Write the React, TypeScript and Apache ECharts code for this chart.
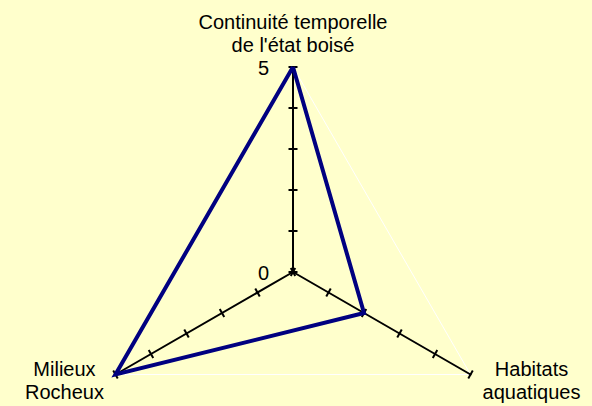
import React, { useEffect, useRef } from "react";
import * as echarts from "echarts";

const indicatorNames = [
  "Continuité temporelle\nde l'état boisé",
  "Milieux\nRocheux",
  "Habitats\naquatiques",
];
const seriesValues = [5, 5, 2];
const axisMin = 0;
const axisMax = 5;
const rangeLabels = ["0", "5"];

const CX = 293;
const CY = 272;
const R = 205;
const FONT = "20px Liberation Sans, Arial, sans-serif";

export default function App() {
  const ref = useRef<HTMLDivElement>(null);
  useEffect(() => {
    if (!ref.current) return;
    const chart = echarts.init(ref.current, undefined, { renderer: "svg" });
    const indicator = indicatorNames.map((n) => ({ name: n, min: axisMin, max: axisMax }));
    const splitColors = ["rgba(0,0,0,0)", "rgba(0,0,0,0)", "rgba(0,0,0,0)", "rgba(0,0,0,0)", "rgba(0,0,0,0)", "#ffffff"];
    const ends = indicatorNames.map((_, i) => {
      const a = ((90 + (360 / indicatorNames.length) * i) * Math.PI) / 180;
      return [CX + R * Math.cos(a), CY - R * Math.sin(a)];
    });
    const nameText = (i: number, x: number, y: number, vAlign: string) => ({
      type: "text",
      x,
      y,
      style: {
        text: indicatorNames[i],
        font: FONT,
        fill: "#000",
        align: "center",
        verticalAlign: vAlign,
        lineHeight: 23,
      },
    });
    chart.setOption({
      animation: false,
      backgroundColor: "#FFFFCC",
      radar: [
        {
          center: [CX, CY],
          radius: R,
          startAngle: 90,
          splitNumber: 5,
          shape: "polygon",
          indicator,
          axisName: { show: false },
          axisLine: { show: true, lineStyle: { color: "#000", width: 2 } },
          axisTick: { show: true, length: 4.5, lineStyle: { color: "#000", width: 2 } },
          axisLabel: { show: false },
          splitLine: { show: true, lineStyle: { color: splitColors, width: 1 } },
          splitArea: { show: false },
        },
        {
          center: [CX, CY],
          radius: R,
          startAngle: 90,
          splitNumber: 5,
          shape: "polygon",
          indicator: indicatorNames.map(() => ({ name: "", min: axisMin, max: axisMax })),
          axisName: { show: false },
          axisLine: { show: false },
          axisTick: { show: true, length: -4.5, lineStyle: { color: "#000", width: 2 } },
          axisLabel: { show: false },
          splitLine: { show: false },
          splitArea: { show: false },
        },
      ],
      series: [
        {
          type: "radar",
          radarIndex: 0,
          symbol: "none",
          lineStyle: { color: "#000080", width: 4, join: "miter" },
          data: [{ value: seriesValues }],
        },
      ],
      graphic: [
        nameText(0, ends[0][0], ends[0][1] - 11, "bottom"),
        nameText(1, ends[1][0] - 51, ends[1][1] + 6, "middle"),
        nameText(2, ends[2][0] + 61, ends[2][1] + 6, "middle"),
        {
          type: "text",
          x: CX - 24,
          y: CY - R + 1,
          style: { text: rangeLabels[1], font: FONT, fill: "#000", align: "right", verticalAlign: "middle" },
        },
        {
          type: "text",
          x: CX - 24,
          y: CY + 1,
          style: { text: rangeLabels[0], font: FONT, fill: "#000", align: "right", verticalAlign: "middle" },
        },
      ],
    });
    return () => chart.dispose();
  }, []);
  return (
    <div
      ref={ref}
      style={{ position: "fixed", left: 0, top: 0, width: 592, height: 406 }}
    />
  );
}
